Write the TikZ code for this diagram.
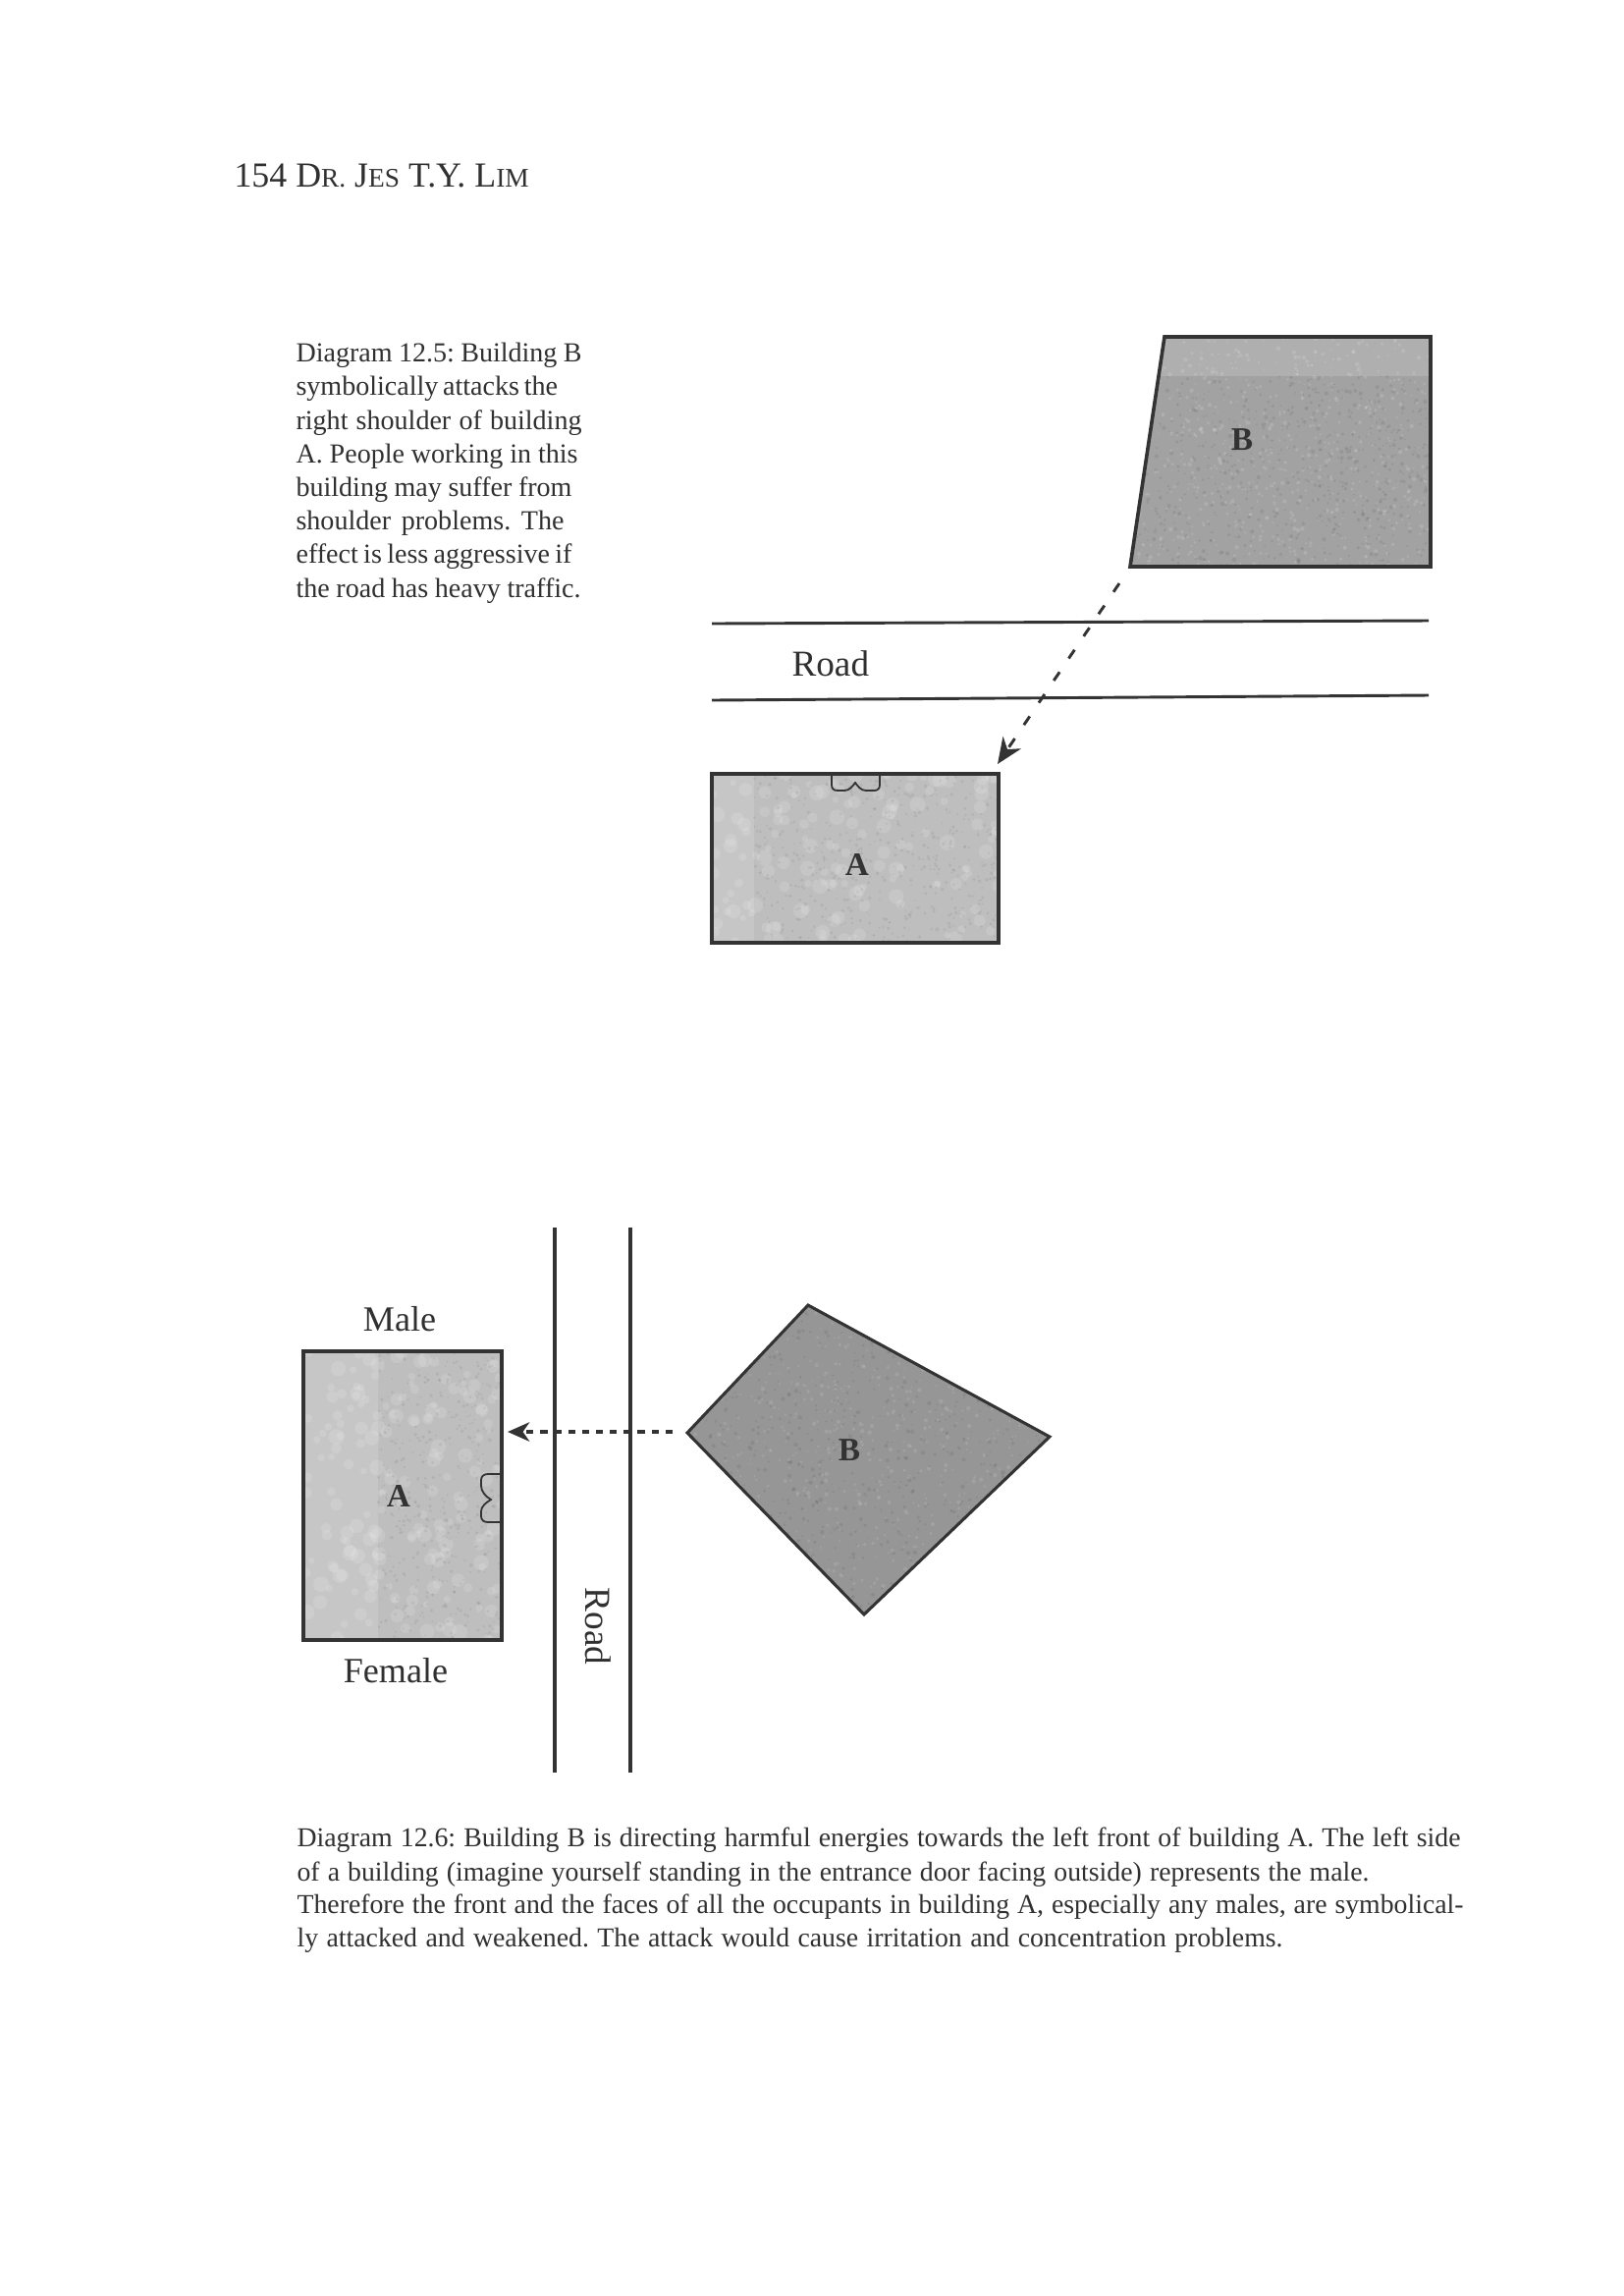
\documentclass[tikz,border=0pt]{standalone}
\usepackage{fontspec}
\setmainfont{Liberation Serif}
\usetikzlibrary{arrows.meta}
\definecolor{inkc}{HTML}{333333}
\definecolor{textc}{HTML}{303030}
\definecolor{fillA}{HTML}{BEBEBE}
\definecolor{bandA}{HTML}{C6C6C6}
\definecolor{fillB}{HTML}{A2A2A2}
\definecolor{bandB}{HTML}{AFAFAF}
\definecolor{fillC}{HTML}{969696}
\frenchspacing
\newcommand{\pxline}[2]{\makebox[\dimexpr 36pt*#1/100\relax][s]{#2}}
% mottle: x0, y0, w, h, count, style, min radius, radius spread
\newcommand{\mottle}[8]{%
  \foreach \ii in {1,...,#5}{%
    \pgfmathsetmacro{\rx}{#1+rnd*#3}%
    \pgfmathsetmacro{\ry}{#2+rnd*#4}%
    \pgfmathsetmacro{\rr}{#7+rnd*#8}%
    \fill[#6] (\rx,\ry) circle[radius=\rr];}}
\tikzset{
  plan/.style={draw=inkc,line width=1.3pt,line join=miter},
  roadline/.style={draw=inkc,line width=1.05pt},
  roadlineV/.style={draw=inkc,line width=1.25pt},
  doorline/.style={draw=inkc,line width=.65pt,line cap=round},
  capline/.style={anchor=base west,inner sep=0pt,text=textc,font=\fontsize{10pt}{12pt}\selectfont},
  sideline/.style={anchor=base west,inner sep=0pt,text=textc,font=\fontsize{10.1pt}{12pt}\selectfont},
  biglabel/.style={inner sep=0pt,text=textc,font=\fontsize{13pt}{15pt}\selectfont},
  roadlabel/.style={inner sep=0pt,text=textc,font=\fontsize{13.4pt}{15pt}\selectfont},
  bldlabel/.style={inner sep=0pt,text=black!80,font=\fontsize{12pt}{14pt}\selectfont\bfseries},
  attackA/.style={draw=inkc,line width=1.05pt,dash pattern=on 3.8pt off 6pt,
    -{Stealth[length=9.5pt,width=8pt,inset=3pt,fill=inkc]}},
  attackB/.style={draw=inkc,line width=1.25pt,dash pattern=on 2.6pt off 2.5pt,
    -{Stealth[length=8pt,width=7pt,inset=2.4pt,fill=inkc]}},
}
\begin{document}
\begin{tikzpicture}[x=0.36pt,y=-0.36pt]
\useasboundingbox (0,0) rectangle (1653,2338);
\pgfmathsetseed{154}

% page header
\node[anchor=base west,inner sep=0pt,text=textc] (header) at (238,190)
  {\fontsize{12.9pt}{15pt}\selectfont 154 D{\fontsize{9.85pt}{15pt}\selectfont R.} J{\fontsize{9.85pt}{15pt}\selectfont ES} T.Y. L{\fontsize{9.85pt}{15pt}\selectfont IM}};

% caption 12.5
\node[sideline] (s1) at (301,368) {\pxline{291}{Diagram 12.5: Building B}};
\node[sideline] (s2) at (301,402) {\pxline{265}{symbolically attacks the}};
\node[sideline] (s3) at (301,437) {\pxline{291}{right shoulder of building}};
\node[sideline] (s4) at (301,471) {\pxline{287}{A. People working in this}};
\node[sideline] (s5) at (301,505) {\pxline{281}{building may suffer from}};
\node[sideline] (s6) at (301,539) {\pxline{273}{shoulder problems. The}};
\node[sideline] (s7) at (301,573) {\pxline{281}{effect is less aggressive if}};
\node[sideline] (s8) at (301,608) {\pxline{290}{the road has heavy traffic.}};

% upper diagram : building B
\coordinate (b1a) at (1186,343);
\coordinate (b1b) at (1457,343);
\coordinate (b1c) at (1457,577);
\coordinate (b1d) at (1151,577);
\begin{scope}
  \clip (b1a) -- (b1b) -- (b1c) -- (b1d) -- cycle;
  \fill[fillB] (1140,340) rectangle (1460,580);
  \fill[bandB] (1140,340) rectangle (1460,383);
  \mottle{1150}{343}{310}{235}{700}{white,opacity=.13}{.8}{1.4}
  \mottle{1150}{383}{310}{195}{700}{black,opacity=.07}{.8}{1.4}
\end{scope}
\draw[plan] (b1a) -- (b1b) -- (b1c) -- (b1d) -- cycle;
\node[bldlabel] (labB1) at (1265,448) {B};

% upper diagram : road
\coordinate (r1a) at (725,635);
\coordinate (r1b) at (1455,632);
\coordinate (r2a) at (725,713);
\coordinate (r2b) at (1455,708);
\draw[roadline] (r1a) -- (r1b);
\draw[roadline] (r2a) -- (r2b);
\node[roadlabel,anchor=base west] (road1) at (806,688) {Road};

% upper diagram : building A
\coordinate (a1a) at (725,788);
\coordinate (a1b) at (1017,788);
\coordinate (a1c) at (1017,960);
\coordinate (a1d) at (725,960);
\begin{scope}
  \clip (a1a) -- (a1b) -- (a1c) -- (a1d) -- cycle;
  \fill[fillA] (a1a) rectangle (a1c);
  \fill[bandA] (a1a) rectangle (768,960);
  \mottle{725}{788}{292}{172}{150}{white,opacity=.13}{3}{5}
  \mottle{768}{788}{249}{172}{500}{black,opacity=.06}{.8}{1.2}
\end{scope}
\draw[plan] (a1a) -- (a1b) -- (a1c) -- (a1d) -- cycle;
\coordinate (d1a) at (847,788);
\coordinate (d1m) at (871,797);
\coordinate (d1b) at (896,788);
\draw[doorline] (d1a) -- (847,799) .. controls (847,803) and (849,805) .. (853,805)
  -- (860,805) .. controls (865,805) and (868,801) .. (d1m)
  .. controls (874,801) and (877,805) .. (882,805) -- (890,805)
  .. controls (894,805) and (896,803) .. (896,799) -- (d1b);
\node[bldlabel] (labA1) at (873,880) {A};

% upper diagram : attack arrow
\coordinate (att1s) at (1140,594);
\coordinate (att1e) at (1016,778);
\draw[attackA] (att1s) -- (att1e);

% lower diagram : road
\coordinate (r3a) at (565,1250);
\coordinate (r3b) at (565,1805);
\coordinate (r4a) at (642,1250);
\coordinate (r4b) at (642,1805);
\draw[roadlineV] (r3a) -- (r3b);
\draw[roadlineV] (r4a) -- (r4b);
\node[roadlabel,rotate=-90,anchor=base] (road2) at (596,1656) {Road};

% lower diagram : building A
\coordinate (a2a) at (309,1376);
\coordinate (a2b) at (511,1376);
\coordinate (a2c) at (511,1670);
\coordinate (a2d) at (309,1670);
\begin{scope}
  \clip (a2a) -- (a2b) -- (a2c) -- (a2d) -- cycle;
  \fill[fillA] (a2a) rectangle (a2c);
  \fill[bandA] (a2a) rectangle (385,1670);
  \mottle{309}{1376}{202}{294}{190}{white,opacity=.13}{3}{5}
  \mottle{385}{1376}{126}{294}{450}{black,opacity=.06}{.8}{1.2}
\end{scope}
\draw[plan] (a2a) -- (a2b) -- (a2c) -- (a2d) -- cycle;
\coordinate (d2a) at (511,1501);
\coordinate (d2m) at (500,1527);
\coordinate (d2b) at (511,1550);
\draw[doorline] (d2a) -- (497,1501) .. controls (493,1501) and (490,1503) .. (490,1507)
  -- (490,1513) .. controls (490,1519) and (495,1524) .. (d2m)
  .. controls (495,1530) and (490,1534) .. (490,1539) -- (490,1544)
  .. controls (490,1548) and (493,1550) .. (497,1550) -- (d2b);
\node[bldlabel] (labA2) at (406,1523) {A};
\node[biglabel,anchor=base] (male) at (407,1355) {Male};
\node[biglabel,anchor=base] (female) at (403,1713) {Female};

% lower diagram : building B
\coordinate (b2a) at (823,1329);
\coordinate (b2b) at (1069,1463);
\coordinate (b2c) at (880,1644);
\coordinate (b2d) at (700,1459);
\begin{scope}
  \clip (b2a) -- (b2b) -- (b2c) -- (b2d) -- cycle;
  \fill[fillC] (690,1325) rectangle (1075,1650);
  \mottle{700}{1329}{368}{315}{800}{white,opacity=.11}{.8}{1.4}
  \mottle{700}{1329}{368}{315}{800}{black,opacity=.07}{.8}{1.4}
\end{scope}
\draw[plan,line width=1.1pt] (b2a) -- (b2b) -- (b2c) -- (b2d) -- cycle;
\node[bldlabel] (labB2) at (865,1477) {B};

% lower diagram : attack arrow
\coordinate (att2s) at (685,1458);
\coordinate (att2e) at (517,1458);
\draw[attackB] (att2s) -- (att2e);

% caption 12.6
\node[capline] (c1) at (302,1880) {\pxline{1185}{Diagram 12.6: Building B is directing harmful energies towards the left front of building A. The left side}};
\node[capline] (c2) at (302,1915) {\pxline{1092}{of a building (imagine yourself standing in the entrance door facing outside) represents the male.}};
\node[capline] (c3) at (302,1948) {\pxline{1188}{Therefore the front and the faces of all the occupants in building A, especially any males, are symbolical-}};
\node[capline] (c4) at (302,1982) {\pxline{1004}{ly attacked and weakened. The attack would cause irritation and concentration problems.}};
\end{tikzpicture}
\end{document}
